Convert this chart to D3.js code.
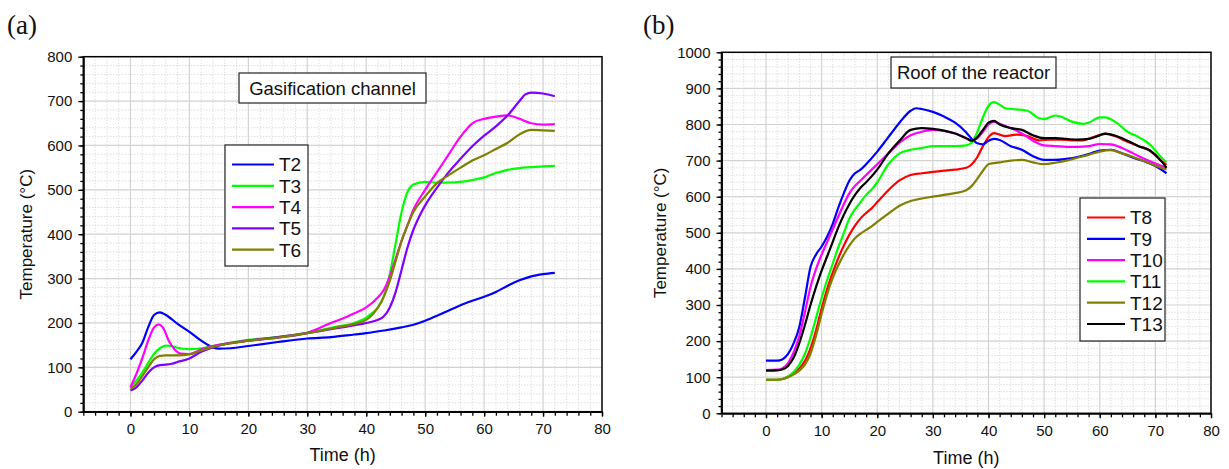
<!DOCTYPE html>
<html>
<head>
<meta charset="utf-8">
<script src="https://cdn.jsdelivr.net/npm/d3@7"></script>
<style>
body { margin: 0; background: #fff; }
text { font-family: Arial, "Liberation Sans", sans-serif; fill: #111; }
</style>
</head>
<body>
<script>
// ---- data: [time (h), temperature (°C)] ----
// (a) gasification channel
const T2 = [[0,118],[1,135],[2,155],[3,190],[4,218],[5,224],[6,218],[8,198],[10,180],[12,160],[14,145],[15,142],[17,143],[20,148],[25,157],[30,165],[34,168],[38,174],[40,177],[43,183],[46,190],[48,196],[50,205],[52,216],[54,228],[56,240],[58,250],[60,259],[62,270],[64,284],[66,296],[68,305],[70,310],[72,313]];
const T3 = [[0,55],[1,70],[2,88],[3,110],[4,130],[5,143],[6,149],[7,148],[8,144],[10,141],[12,143],[14,148],[16,153],[20,162],[25,168],[30,178],[35,192],[38,200],[40,212],[41,222],[42,235],[43,260],[44,310],[45,380],[46,450],[47,495],[48,512],[50,518],[52,516],[55,517],[58,522],[60,528],[62,538],[64,545],[66,549],[68,551],[70,553],[72,554]];
const T4 = [[0,55],[1,85],[2,120],[3,160],[4,190],[4.8,197],[5.5,190],[6.5,160],[7.5,140],[8.5,131],[10,130],[12,140],[14,148],[16,153],[20,160],[25,167],[30,178],[32,188],[34,200],[36,210],[38,222],[40,235],[42,258],[43,275],[44,305],[45,345],[46,385],[47,420],[48,455],[50,500],[52,540],[54,580],[56,620],[58,650],[60,660],[62,665],[64,668],[66,660],[68,650],[70,647],[72,648]];
const T5 = [[0,48],[1,55],[2,70],[3,88],[4,100],[5,105],[6,106],[7,108],[8,112],[10,120],[12,135],[14,145],[16,152],[20,160],[25,168],[30,177],[35,188],[40,200],[42,207],[43,215],[44,235],[45,270],[46,320],[47,370],[48,410],[49,440],[50,465],[52,505],[54,540],[56,570],[58,598],[60,622],[62,643],[64,668],[66,700],[67,715],[68,719],[70,717],[72,711]];
const T6 = [[0,52],[1,62],[2,80],[3,100],[4,118],[5,126],[6,127],[8,127],[10,129],[12,138],[14,146],[16,152],[20,160],[25,167],[30,177],[35,190],[38,198],[40,207],[41,218],[42,235],[43,260],[44,295],[45,340],[46,385],[47,420],[48,450],[50,485],[52,515],[54,533],[56,550],[58,566],[60,578],[62,592],[64,606],[66,625],[68,635],[70,634],[72,633]];

// (b) roof of the reactor
const T8 = [[0,93],[2,93],[3,95],[4,102],[5,112],[6,125],[7,145],[8,180],[9,230],[10,290],[11,345],[12,390],[13,430],[14,465],[15,495],[16,520],[17,540],[18,555],[19,568],[20,585],[22,618],[24,645],[26,660],[28,665],[30,669],[32,672],[34,675],[36,680],[37,690],[38,710],[39,740],[40,765],[41,776],[42,772],[43,768],[45,772],[47,768],[49,756],[51,758],[53,758],[55,756],[57,756],[59,766],[61,774],[63,766],[65,752],[67,740],[69,728],[71,700],[72,688]];
const T9 = [[0,146],[2,146],[3,150],[4,165],[5,195],[6,240],[7,320],[8,405],[9,440],[10,462],[11,490],[12,525],[13,570],[14,610],[15,645],[16,665],[17,675],[18,690],[20,725],[22,765],[24,805],[26,838],[27,845],[28,843],[30,835],[32,822],[34,805],[36,778],[37,760],[38,748],[39,745],[40,755],[41,760],[42,757],[44,740],[46,730],[48,712],[50,702],[52,702],[54,705],[56,710],[58,718],[60,728],[62,730],[64,720],[66,708],[68,698],[70,685],[72,665]];
const T10 = [[0,120],[2,121],[3,125],[4,140],[5,170],[6,215],[7,280],[8,350],[9,400],[10,440],[11,475],[12,510],[13,545],[14,580],[15,610],[16,630],[17,645],[18,660],[20,690],[22,720],[24,750],[26,770],[28,780],[30,785],[32,782],[34,775],[36,762],[37,755],[38,762],[39,780],[40,800],[41,808],[42,802],[44,790],[46,775],[48,755],[50,742],[52,740],[54,738],[56,738],[58,740],[60,746],[62,745],[64,735],[66,720],[68,705],[70,692],[72,680]];
const T11 = [[0,93],[2,93],[3,95],[4,102],[5,115],[6,135],[7,165],[8,210],[9,265],[10,320],[11,370],[12,415],[13,460],[14,500],[15,540],[16,565],[17,585],[18,605],[19,620],[20,640],[22,690],[24,720],[26,730],[28,735],[30,740],[32,740],[34,740],[36,742],[37,750],[38,780],[39,820],[40,852],[41,862],[42,855],[43,845],[45,842],[47,838],[49,818],[50,815],[52,825],[53,822],[55,808],[57,802],[58,805],[60,820],[61,820],[63,805],[65,780],[67,765],[69,745],[71,710],[72,695]];
const T12 = [[0,93],[2,93],[3,95],[4,100],[5,108],[6,118],[7,135],[8,165],[9,215],[10,275],[11,330],[12,375],[13,410],[14,440],[15,465],[16,485],[17,498],[18,508],[19,518],[20,530],[22,553],[24,575],[26,588],[28,595],[30,600],[32,605],[34,610],[36,618],[37,630],[38,650],[39,672],[40,690],[42,695],[44,700],[46,702],[48,695],[50,690],[52,694],[54,700],[56,708],[58,716],[60,725],[62,729],[64,720],[66,710],[68,698],[70,686],[72,675]];
const T13 = [[0,118],[2,119],[3,122],[4,132],[5,155],[6,195],[7,245],[8,300],[9,350],[10,395],[11,435],[12,475],[13,515],[14,550],[15,580],[16,605],[17,625],[18,640],[20,675],[22,720],[24,755],[26,785],[28,790],[30,788],[32,783],[34,775],[36,762],[37,755],[38,765],[39,785],[40,805],[41,810],[42,800],[44,790],[46,785],[48,770],[50,762],[52,762],[54,760],[56,758],[58,760],[60,770],[61,775],[63,768],[65,755],[67,740],[69,728],[71,700],[72,680]];

const namesA = ['T2', 'T3', 'T4', 'T5', 'T6'];
const seriesA = [T2, T3, T4, T5, T6];
const colorsA = ['#0000ff', '#00ff00', '#ff00ff', '#8000ff', '#808000'];

const namesB = ['T8', 'T9', 'T10', 'T11', 'T12', 'T13'];
const seriesB = [T8, T9, T10, T11, T12, T13];
const colorsB = ['#ff0000', '#0000ff', '#ff00ff', '#00ff00', '#808000', '#000000'];

const xTicks = [0, 10, 20, 30, 40, 50, 60, 70, 80];

let width = 1229;
let height = 469;

let svg = d3.select('body').append('svg')
	.attr('width', width)
	.attr('height', height)
	.style('background-color', '#fff');

function drawPanel(p) {
	let x = d3.scaleLinear().domain([-8, 80]).range([p.left, p.right]);
	let y = d3.scaleLinear().domain([0, p.ymax]).range([p.bottom, p.top]);
	let g = svg.append('g');

	// dotted minor grid
	let xMinor = d3.range(-6, 80, 2).filter(v => v % 10 !== 0);
	let yMinor = d3.range(20, p.ymax, 20).filter(v => v % 100 !== 0);
	g.selectAll('.vmin').data(xMinor).enter().append('line')
		.attr('x1', d => x(d)).attr('x2', d => x(d))
		.attr('y1', p.top).attr('y2', p.bottom)
		.style('stroke', '#cfcfcf').style('stroke-dasharray', '1,2');
	g.selectAll('.hmin').data(yMinor).enter().append('line')
		.attr('y1', d => y(d)).attr('y2', d => y(d))
		.attr('x1', p.left).attr('x2', p.right)
		.style('stroke', '#cfcfcf').style('stroke-dasharray', '1,2');

	// solid major grid
	g.selectAll('.vmaj').data(d3.range(0, 80, 10)).enter().append('line')
		.attr('x1', d => x(d)).attr('x2', d => x(d))
		.attr('y1', p.top).attr('y2', p.bottom)
		.style('stroke', '#d2d2d2').style('stroke-width', 1.2);
	g.selectAll('.hmaj').data(d3.range(100, p.ymax, 100)).enter().append('line')
		.attr('y1', d => y(d)).attr('y2', d => y(d))
		.attr('x1', p.left).attr('x2', p.right)
		.style('stroke', '#d2d2d2').style('stroke-width', 1.2);

	// curves
	let line = d3.line()
		.x(d => x(d[0]))
		.y(d => y(d[1]))
		.curve(d3.curveMonotoneX);
	p.series.forEach((s, i) => {
		g.append('path')
			.datum(s)
			.attr('d', line)
			.style('fill', 'none')
			.style('stroke', p.colors[i])
			.style('stroke-width', 2.2);
	});

	// frame
	g.append('rect')
		.attr('x', p.left).attr('y', p.top)
		.attr('width', p.right - p.left).attr('height', p.bottom - p.top)
		.style('fill', 'none').style('stroke', '#000').style('stroke-width', 1.5);

	// axes
	g.append('g').attr('transform', 'translate(0,' + p.bottom + ')')
		.call(d3.axisBottom(x).tickValues(xTicks).tickSize(5).tickSizeOuter(0).tickPadding(7));
	g.append('g').attr('transform', 'translate(0,' + p.bottom + ')')
		.call(d3.axisBottom(x).tickValues(d3.range(-8, 81, 2)).tickSize(4).tickSizeOuter(0).tickFormat(''));
	g.append('g').attr('transform', 'translate(' + p.left + ',0)')
		.call(d3.axisLeft(y).tickValues(d3.range(0, p.ymax + 1, 100)).tickSize(5).tickSizeOuter(0).tickPadding(6).tickFormat(d3.format('d')));
	g.append('g').attr('transform', 'translate(' + p.left + ',0)')
		.call(d3.axisLeft(y).tickValues(d3.range(0, p.ymax + 1, 20)).tickSize(3).tickSizeOuter(0).tickFormat(''));
	g.selectAll('.domain').style('stroke', '#000').style('stroke-width', 1.5);
	g.selectAll('.tick line').style('stroke', '#000').style('stroke-width', 1.3);
	g.selectAll('.tick text').style('font-size', '15px').style('font-family', 'Arial, "Liberation Sans", sans-serif').style('fill', '#111');

	// axis titles
	g.append('text')
		.attr('x', (p.left + p.right) / 2 + p.xTitleShift)
		.attr('y', p.xTitleY)
		.attr('text-anchor', 'middle')
		.style('font-size', '18px')
		.text('Time (h)');
	g.append('text')
		.attr('transform', 'translate(' + p.yTitleX + ',' + (p.top + p.bottom) / 2 + ') rotate(-90)')
		.attr('text-anchor', 'middle')
		.style('font-size', '17px')
		.text('Temperature (°C)');

	// panel letter
	g.append('text')
		.attr('x', p.letterX).attr('y', 34)
		.style('font-family', '"Liberation Serif", "Times New Roman", serif')
		.style('font-size', '27px')
		.text(p.letter);

	// title box
	g.append('rect')
		.attr('x', p.box[0]).attr('y', p.box[1]).attr('width', p.box[2]).attr('height', p.box[3])
		.style('fill', '#fff').style('stroke', '#222').style('stroke-width', 1.2);
	g.append('text')
		.attr('x', p.box[0] + p.box[2] / 2).attr('y', p.box[1] + p.box[3] / 2)
		.attr('dy', '0.36em')
		.attr('text-anchor', 'middle')
		.style('font-size', '18.5px')
		.text(p.title);

	// legend
	let lg = p.legend;
	g.append('rect')
		.attr('x', lg.x).attr('y', lg.y).attr('width', lg.w).attr('height', lg.h)
		.style('fill', '#fff').style('stroke', '#222').style('stroke-width', 1.2);
	let items = g.selectAll('.leg').data(p.names).enter().append('g')
		.attr('transform', (d, i) => 'translate(' + (lg.x + 7) + ',' + (lg.y + 19.5 + i * 21.3) + ')');
	items.append('line')
		.attr('x1', 0).attr('x2', lg.line)
		.style('stroke', (d, i) => p.colors[i])
		.style('stroke-width', 2.2);
	items.append('text')
		.attr('x', lg.line + 5)
		.attr('dy', '0.36em')
		.style('font-size', '19px')
		.text(d => d);
}

drawPanel({
	left: 83.3, right: 602, top: 56.7, bottom: 411.7, ymax: 800,
	series: seriesA, colors: colorsA, names: namesA,
	title: 'Gasification channel', box: [239, 73, 187, 30],
	legend: { x: 225, y: 145, w: 83, h: 121, line: 42 },
	letter: '(a)', letterX: 7,
	xTitleY: 461, xTitleShift: 0, yTitleX: 32
});

drawPanel({
	left: 721.5, right: 1211, top: 52.3, bottom: 413.3, ymax: 1000,
	series: seriesB, colors: colorsB, names: namesB,
	title: 'Roof of the reactor', box: [891, 57, 165, 31],
	legend: { x: 1080, y: 198, w: 85, h: 143, line: 38 },
	letter: '(b)', letterX: 643,
	xTitleY: 464, xTitleShift: 0, yTitleX: 666
});
</script>
</body>
</html>
